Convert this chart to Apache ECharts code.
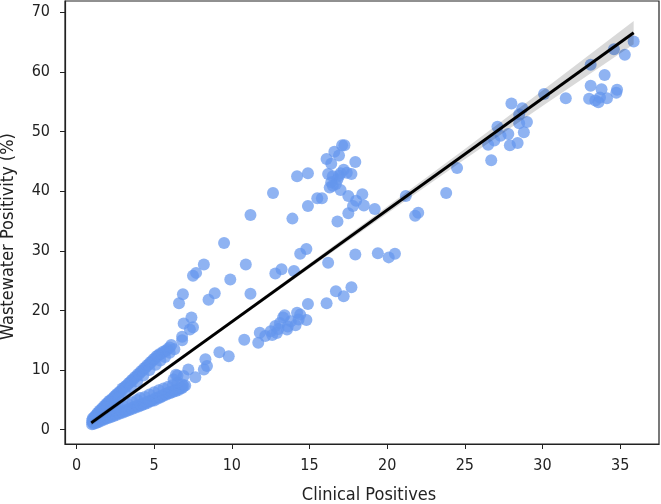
<!DOCTYPE html>
<html><head><meta charset="utf-8">
<script src="https://cdn.jsdelivr.net/npm/echarts@6/dist/echarts.min.js"></script>
<style>html,body{margin:0;padding:0;background:#fff}#c{width:661px;height:504px}</style>
</head><body><div id="c"></div>
<script>
// Tick labels
const xTicks = [0, 5, 10, 15, 20, 25, 30, 35];
const yTicks = [0, 10, 20, 30, 40, 50, 60, 70];

// Points: [clinical positives, wastewater positivity %]
const upperBranch = [
  [1.0,1.5],[1.05,1.9],[1.1,1.7],[1.15,2.1],[1.2,2.3],[1.3,2.5],[1.35,2.8],[1.45,2.9],[1.5,3.2],[1.6,3.3],
  [1.65,3.6],[1.75,3.7],[1.8,4.0],[1.9,4.1],[1.95,4.4],[2.05,4.5],[2.1,4.8],[2.2,4.9],[2.3,5.2],[2.4,5.3],
  [2.45,5.6],[2.55,5.7],[2.6,6.0],[2.7,6.1],[2.8,6.4],[2.9,6.5],[2.95,6.9],[3.05,7.0],[3.15,7.3],[3.25,7.4],
  [3.35,7.8],[3.45,7.9],[3.55,8.3],[3.65,8.4],[3.75,8.8],[3.85,8.9],[3.95,9.3],[4.05,9.4],[4.15,9.8],[4.25,9.9],
  [4.35,10.3],[4.45,10.4],[4.55,10.8],[4.65,10.9],[4.75,11.3],[4.85,11.4],[4.95,11.8],[5.05,11.9],[5.15,12.3],[5.25,12.4],
  [5.35,12.7],[5.5,12.8],[5.6,13.1],[5.75,13.2],[5.85,13.5],[6.0,13.8],[6.1,14.2],
  [2.3,4.5],[2.7,5.4],[3.1,6.3],[3.5,7.2],[3.9,8.1],[4.3,9.1],[4.7,10.0],[5.1,10.9],[5.4,11.6],[5.7,12.2],
  [6.0,12.9],[6.3,13.5],[1.7,3.1],[2.0,3.8]
];
const lowerBranch = [
  [1.0,0.9],[1.05,1.2],[1.1,1.0],[1.2,1.3],[1.25,1.1],[1.35,1.4],[1.4,1.25],[1.5,1.6],[1.6,1.5],[1.7,1.8],
  [1.8,1.7],[1.9,2.0],[2.0,1.9],[2.1,2.2],[2.2,2.1],[2.3,2.4],[2.4,2.3],[2.5,2.6],[2.6,2.5],[2.7,2.8],
  [2.8,2.7],[2.9,3.0],[3.0,2.9],[3.1,3.2],[3.2,3.1],[3.3,3.4],[3.4,3.3],[3.5,3.6],[3.6,3.5],[3.7,3.8],
  [3.8,3.7],[3.9,4.0],[4.0,3.9],[4.1,4.2],[4.2,4.1],[4.3,4.4],[4.4,4.3],[4.5,4.6],[4.6,4.5],[4.7,4.8],
  [4.8,4.8],[4.9,5.0],[5.0,4.9],[5.1,5.3],[5.2,5.2],[5.3,5.5],[5.4,5.4],[5.5,5.7],[5.6,5.7],[5.7,6.0],
  [5.8,5.9],[5.9,6.2],[6.0,6.1],[6.1,6.4],[6.2,6.3],[6.3,6.6],[6.4,6.5],[6.5,6.8],[6.6,6.7],[6.7,7.0],
  [6.8,7.0],[6.9,7.3],
  [1.5,2.2],[1.8,2.6],[2.1,3.0],[2.4,3.4],[2.7,3.7],[3.0,4.0],[3.3,4.3],[3.6,4.6],[3.9,5.0],[4.1,5.3],
  [4.4,5.5],[4.7,5.9],[5.0,6.3],[5.3,6.6],[5.6,6.9],[5.9,7.2],[6.2,7.5],[6.5,7.9],[6.25,8.4],[6.5,9.1],
  [6.8,7.6],[7.0,7.4],
  [1.3,1.9],[1.6,2.5],[1.9,3.0],[2.2,3.5],[2.5,4.0]
];
const midUpper = [
  [6.6,21.2],[6.85,22.7],[6.8,15.0],[6.8,15.6],[6.9,17.8],[7.3,16.8],[7.5,17.2],[7.4,18.8],[7.5,25.8],[7.7,26.3],
  [8.2,27.7],[8.5,21.8],[8.9,22.9],[9.5,31.3],[9.9,25.2],[10.9,27.7],[11.2,22.8],[11.2,36.0],[12.65,39.7],[12.8,26.2],
  [13.2,26.9],[13.9,35.4],[14.0,26.6],[14.2,42.5],[14.4,29.5],[14.8,30.3],[14.9,43.0],[14.9,37.5],[15.5,38.8],[15.8,38.8],
  [16.1,45.4],[16.4,44.6],[16.6,46.6],[16.9,46.0],[17.1,47.7],[17.25,47.7],[17.2,43.6],[17.4,43.1],[17.7,42.9],[16.2,42.9],
  [16.5,42.5],[16.8,42.0],[16.4,41.5],[16.3,40.6],[16.5,40.9],[17.0,40.2],[16.7,41.2],[16.9,42.6],[17.0,43.0],[17.5,39.2],
  [17.95,44.9],[18.4,39.5],[18.0,38.4],[17.8,37.5],[18.5,37.6],[19.2,37.0],[17.5,36.3],[16.8,34.9],[21.2,39.2],[21.8,35.9],
  [22.0,36.4],[23.8,39.7],[24.5,43.9]
];
const midLower = [
  [16.2,28.0],[17.95,29.4],[19.4,29.6],[20.1,28.9],[20.5,29.5],[16.1,21.2],[14.9,21.1],[16.7,23.2],[17.2,22.4],[17.7,23.9],
  [10.8,15.1],[11.7,14.6],[11.8,16.25],[12.15,15.7],[12.5,16.5],[12.8,17.4],[13.1,17.9],[13.3,18.8],[13.55,16.8],[12.9,16.2],
  [13.4,19.2],[13.8,18.2],[14.2,19.6],[14.3,18.5],[14.8,18.4],[14.1,17.5],[13.6,17.3],[12.6,15.9],[13.0,16.9],[14.4,19.3],
  [9.2,13.0],[9.8,12.3],[8.3,11.8],[8.4,10.7],[8.2,10.1],[7.65,8.8],[7.2,10.1],[6.9,9.0],[6.4,9.2]
];
const highPoints = [
  [26.5,47.8],[26.7,45.2],[26.9,48.5],[27.1,50.8],[27.3,49.3],[27.8,49.6],[27.9,47.7],[28.0,54.7],[28.4,48.1],[28.5,51.4],
  [28.5,52.9],[28.7,53.9],[28.8,49.9],[29.0,51.6],[30.1,56.3],[31.5,55.6],[33.0,55.5],[33.1,57.7],[33.1,61.2],[33.4,55.2],
  [33.6,54.9],[33.7,55.7],[33.8,57.1],[34.0,59.5],[34.15,55.6],[34.6,63.8],[34.75,56.5],[34.8,57.0],[35.3,62.9],[35.87,65.1]
];

// Regression fit line and confidence band
const regX = [0.95, 35.87];
const regY = [1.14, 66.58];
const bandX = [0.95, 5, 10, 15, 20, 25, 30, 35.87];
const bandLower = [0.70, 8.38, 17.80, 27.07, 36.24, 45.36, 54.28, 64.63];
const bandUpper = [1.60, 9.08, 18.40, 27.87, 37.44, 47.06, 56.88, 68.53];

const FONT = "'Liberation Sans Narrow', 'DejaVu Sans Condensed', 'Noto Sans', sans-serif";
const INK = '#222';
const pts = [].concat(lowerBranch, upperBranch, midLower, midUpper, highPoints);

const chart = echarts.init(document.getElementById('c'), null, {renderer: 'canvas'});
chart.setOption({
  animation: false,
  backgroundColor: '#fff',
  grid: {left: 65, right: 2, top: 1, bottom: 60, show: true, borderColor: INK, borderWidth: 1.2,
         backgroundColor: 'transparent', containLabel: false, outerBoundsMode: 'none'},
  xAxis: {
    type: 'value', min: -0.74, max: 37.5,
    splitLine: {show: false},
    axisLine: {show: true, onZero: false, lineStyle: {color: INK, width: 1.2}},
    axisTick: {show: true, length: 5, customValues: xTicks, lineStyle: {color: INK, width: 1}},
    axisLabel: {customValues: xTicks, fontSize: 16, color: INK, margin: 14, fontFamily: FONT},
    name: 'Clinical Positives', nameLocation: 'middle', nameGap: 42,
    nameTextStyle: {fontSize: 18, color: INK, fontFamily: FONT, padding: [0, 0, 0, 14]}
  },
  yAxis: {
    type: 'value', min: -2.4, max: 71.9,
    splitLine: {show: false},
    axisLine: {show: true, onZero: false, lineStyle: {color: INK, width: 1.2}},
    axisTick: {show: true, length: 5, customValues: yTicks, lineStyle: {color: INK, width: 1}},
    axisLabel: {customValues: yTicks, fontSize: 16, color: INK, margin: 15, fontFamily: FONT},
    name: 'Wastewater Positivity (%)', nameLocation: 'middle', nameGap: 48, nameRotate: 90,
    nameTextStyle: {fontSize: 18, color: INK, fontFamily: FONT, padding: [0, 28, 0, 0]}
  },
  series: [
    {
      type: 'scatter', data: pts, symbol: 'circle', symbolSize: 12, z: 2,
      itemStyle: {color: 'rgba(100,149,237,0.9)'}
    },
    {
      type: 'custom', z: 3, data: [[bandX[0], bandLower[0]]],
      renderItem: function (params, api) {
        const poly = [];
        for (let i = 0; i < bandX.length; i++) poly.push(api.coord([bandX[i], bandUpper[i]]));
        for (let i = bandX.length - 1; i >= 0; i--) poly.push(api.coord([bandX[i], bandLower[i]]));
        return {type: 'polygon', shape: {points: poly}, style: {fill: 'rgba(0,0,0,0.15)'}};
      }
    },
    {
      type: 'line', z: 4, data: regX.map((x, i) => [x, regY[i]]), symbol: 'none',
      lineStyle: {color: '#000', width: 3}
    }
  ]
});
</script>
</body></html>
